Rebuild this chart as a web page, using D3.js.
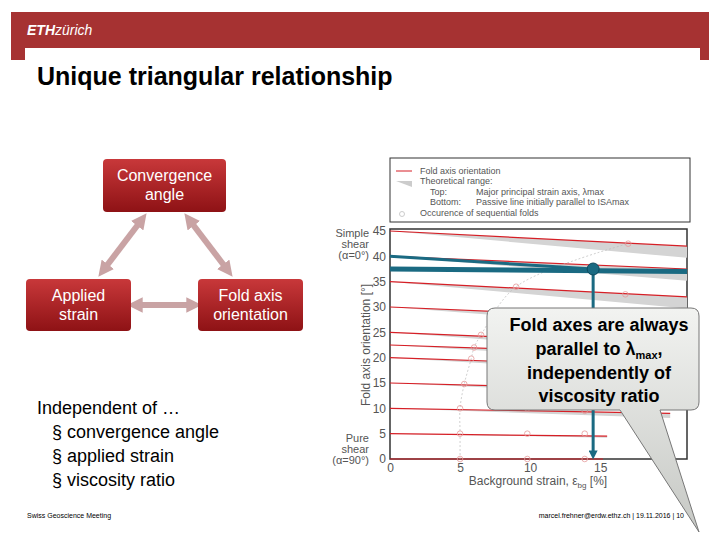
<!DOCTYPE html>
<html><head><meta charset="utf-8">
<script src="https://cdn.jsdelivr.net/npm/d3@7"></script>
<style>body{margin:0;background:#fff}svg{display:block;font-family:"Liberation Sans",Arial,sans-serif}</style>
</head><body><svg id="c" width="720" height="540"></svg>
<script>
// fold axis orientation lines: start angle, end angle, end strain
const lineStart = [45, 40, 35, 30, 25, 22.5, 20, 15, 10, 5, 0]
const lineEnd   = [42, 37.5, 32, 27.5, 22.5, 20.5, 18, 13.5, 9, 4.5, 0]
const lineEndX  = [21.2, 21.2, 21.2, 21.2, 21.2, 21.2, 21.2, 21.2, 20, 15.5, 15.2]
const bandWidth = [2.3, 2.3, 2.3, 2, 1.8, 1.6, 1.5, 1.2, 0.9, 0.3, 0]
// sequential fold occurrences
const foldX = [5, 5, 5, 5.3, 5.8, 6, 6.5, 9, 17, 9.8, 9.8, 9.8, 13.9, 13.9, 13.9, 16.8]
const foldY = [0, 5, 10, 14.8, 19.8, 22, 24.5, 34, 42.5, 0, 5, 10, 0, 5, 9.5, 32.5]
const xTicks = [0, 5, 10, 15]
const yTicks = [0, 5, 10, 15, 20, 25, 30, 35, 40, 45]

const svg = d3.select("#c")
const defs = svg.append("defs")
const g1 = defs.append("linearGradient").attr("id", "box").attr("x1", 0).attr("y1", 0).attr("x2", 0).attr("y2", 1)
g1.append("stop").attr("offset", 0).attr("stop-color", "#c8383a")
g1.append("stop").attr("offset", 1).attr("stop-color", "#8e1215")
const g2 = defs.append("linearGradient").attr("id", "call").attr("x1", 0).attr("y1", 0).attr("x2", 0).attr("y2", 1)
g2.append("stop").attr("offset", 0).attr("stop-color", "#f2f3f1")
g2.append("stop").attr("offset", 1).attr("stop-color", "#c6c8c4")
defs.append("marker").attr("id", "ah").attr("viewBox", "0 0 10 10").attr("refX", 5).attr("refY", 5)
  .attr("markerWidth", 3).attr("markerHeight", 3).attr("orient", "auto")
  .append("path").attr("d", "M0,0L10,5L0,10z").attr("fill", "#1a6a82")
defs.append("marker").attr("id", "ahp").attr("viewBox", "0 0 10 10").attr("refX", 3).attr("refY", 5)
  .attr("markerWidth", 2.6).attr("markerHeight", 2.6).attr("orient", "auto-start-reverse")
  .append("path").attr("d", "M0,0L10,5L0,10z").attr("fill", "#c9a3a4")

// header
svg.append("rect").attr("x", 11).attr("y", 12).attr("width", 698).attr("height", 48).attr("fill", "#a63232")
svg.append("rect").attr("x", 25).attr("y", 48).attr("width", 675).attr("height", 14).attr("fill", "#fff")
svg.append("text").attr("x", 27).attr("y", 35).attr("fill", "#fff").attr("font-size", 14).attr("font-style", "italic")
  .html('<tspan font-weight="bold">ETH</tspan><tspan>zürich</tspan>')
svg.append("text").attr("x", 37).attr("y", 85).attr("font-size", 25).attr("font-weight", "bold")
  .attr("font-family", "'Liberation Sans Narrow',sans-serif").text("Unique triangular relationship")

// diagram boxes
const boxes = [
  {x: 103, y: 159, w: 123, h: 53, t: ["Convergence", "angle"]},
  {x: 26, y: 279, w: 105, h: 52, t: ["Applied", "strain"]},
  {x: 198, y: 279, w: 105, h: 52, t: ["Fold axis", "orientation"]}
]
const arrows = [[[140, 222], [105, 268]], [[191, 222], [226, 268]], [[138, 305], [191, 305]]]
arrows.forEach(a => {
  svg.append("line").attr("x1", a[0][0]).attr("y1", a[0][1]).attr("x2", a[1][0]).attr("y2", a[1][1])
    .attr("stroke", "#c9a3a4").attr("stroke-width", 6)
    .attr("marker-start", "url(#ahp)").attr("marker-end", "url(#ahp)")
})
boxes.forEach(b => {
  svg.append("rect").attr("x", b.x).attr("y", b.y).attr("width", b.w).attr("height", b.h).attr("rx", 4).attr("fill", "url(#box)")
  b.t.forEach((s, i) => svg.append("text").attr("x", b.x + b.w / 2).attr("y", b.y + 22 + i * 19)
    .attr("text-anchor", "middle").attr("fill", "#fff").attr("font-size", 16).text(s))
})
const bul = svg.append("g").attr("font-size", 18)
bul.append("text").attr("x", 37).attr("y", 414).text("Independent of …")
;["convergence angle", "applied strain", "viscosity ratio"].forEach((s, i) =>
  bul.append("text").attr("x", 52).attr("y", 438 + i * 24).text("§ " + s))

// footer
svg.append("text").attr("x", 27).attr("y", 518).attr("font-size", 7).text("Swiss Geoscience Meeting")
svg.append("text").attr("x", 684).attr("y", 518).attr("font-size", 7).attr("text-anchor", "end")
  .text("marcel.frehner@erdw.ethz.ch  |  19.11.2016  |  10")

// chart
const x = d3.scaleLinear().domain([0, 21.2]).range([390, 687])
const y = d3.scaleLinear().domain([0, 45]).range([459, 231])
const ch = svg.append("g")
ch.append("rect").attr("x", 390).attr("y", 229).attr("width", 297).attr("height", 230).attr("fill", "#fff")
  .attr("stroke", "#333").attr("stroke-width", 1.5)
lineStart.forEach((s, i) => {
  const xe = lineEndX[i], e = lineEnd[i], bw = bandWidth[i]
  if (bw > 0) ch.append("path").attr("fill", "#d4d4d4")
    .attr("d", d3.line()([[x(0), y(s)], [x(xe), y(e)], [x(xe), y(e - bw)], [x(0), y(s)]]))
  ch.append("line").attr("x1", x(0)).attr("y1", y(s)).attr("x2", x(xe)).attr("y2", y(e))
    .attr("stroke", "#d61f26").attr("stroke-width", 1.2)
})
ch.append("path").attr("fill", "none").attr("stroke", "#bbb").attr("stroke-dasharray", "2,2").attr("stroke-width", 0.7)
  .attr("d", d3.line().curve(d3.curveCatmullRom)(foldX.slice(0, 9).map((v, i) => [x(v), y(foldY[i])])))
ch.selectAll("circle.f").data(foldX).join("circle").attr("cx", d => x(d)).attr("cy", (d, i) => y(foldY[i]))
  .attr("r", 2.8).attr("fill", "none").attr("stroke", "#e59a9a").attr("stroke-width", 0.8)
// highlight
ch.append("line").attr("x1", x(0)).attr("y1", y(40)).attr("x2", x(14.5)).attr("y2", y(37.5)).attr("stroke", "#1a6a82").attr("stroke-width", 3)
ch.append("line").attr("x1", x(0)).attr("y1", y(37.5)).attr("x2", x(21.2)).attr("y2", y(37)).attr("stroke", "#1a6a82").attr("stroke-width", 5)
ch.append("line").attr("x1", x(14.5)).attr("y1", y(37.5)).attr("x2", x(14.5)).attr("y2", y(0.8))
  .attr("stroke", "#1a6a82").attr("stroke-width", 3).attr("marker-end", "url(#ah)")
ch.append("circle").attr("cx", x(14.5)).attr("cy", y(37.5)).attr("r", 6).attr("fill", "#1a6a82").attr("stroke", "#0d4a5e")

const ax = ch.append("g").attr("transform", "translate(0,459)")
  .call(d3.axisBottom(x).tickValues(xTicks).tickSize(0).tickPadding(4))
const ay = ch.append("g").attr("transform", "translate(390,0)")
  .call(d3.axisLeft(y).tickValues(yTicks).tickSize(0).tickPadding(4))
;[ax, ay].forEach(a => { a.select(".domain").remove(); a.selectAll("text").attr("font-size", 12).attr("fill", "#555") })
ch.append("text").attr("x", 538).attr("y", 485).attr("text-anchor", "middle").attr("font-size", 12).attr("fill", "#555")
  .html('Background strain, ε<tspan font-size="8" dy="3">bg</tspan><tspan dy="-3"> [%]</tspan>')
ch.append("text").attr("transform", "translate(370,345) rotate(-90)").attr("text-anchor", "middle")
  .attr("font-size", 12).attr("fill", "#555").text("Fold axis orientation [°]")
const side = [[["Simple", "shear", "(α=0°)"], 237], [["Pure", "shear", "(α=90°)"], 442]]
side.forEach(sd => sd[0].forEach((s, i) => ch.append("text").attr("x", 369).attr("y", sd[1] + i * 11)
  .attr("text-anchor", "end").attr("font-size", 11).attr("fill", "#555").text(s)))

// legend
const lg = ch.append("g").attr("font-size", 9).attr("fill", "#555")
lg.append("rect").attr("x", 390).attr("y", 158).attr("width", 300).attr("height", 64).attr("fill", "#fff").attr("stroke", "#333")
lg.append("line").attr("x1", 396).attr("x2", 412).attr("y1", 171).attr("y2", 171).attr("stroke", "#d61f26")
lg.append("path").attr("d", "M396,181L412,181L412,187z").attr("fill", "#ccc")
lg.append("circle").attr("cx", 402).attr("cy", 214).attr("r", 2.5).attr("fill", "none").attr("stroke", "#ccc")
const lgt = [[420, 174, "Fold axis orientation"], [420, 184, "Theoretical range:"], [430, 195, "Top:"],
  [476, 195, "Major principal strain axis, λmax"], [430, 205, "Bottom:"], [476, 205, "Passive line initially parallel to ISAmax"],
  [420, 216, "Occurence of sequential folds"]]
lgt.forEach(t => lg.append("text").attr("x", t[0]).attr("y", t[1]).attr("fill", "#555").text(t[2]))

// callout
svg.append("path").attr("fill", "url(#call)").attr("stroke", "#777")
  .attr("d", "M495,308H691Q699,308 699,316V402Q699,410 691,410H660L699,532L620,410H495Q487,410 487,402V316Q487,308 495,308z")
const ct = svg.append("g").attr("font-size", 18).attr("font-weight", "bold").attr("text-anchor", "middle")
ct.append("text").attr("x", 599).attr("y", 331).text("Fold axes are always")
ct.append("text").attr("x", 599).attr("y", 355).html('parallel to λ<tspan font-size="11" dy="4">max</tspan><tspan dy="-4">,</tspan>')
ct.append("text").attr("x", 599).attr("y", 379).text("independently of")
ct.append("text").attr("x", 599).attr("y", 402).text("viscosity ratio")
</script></body></html>
